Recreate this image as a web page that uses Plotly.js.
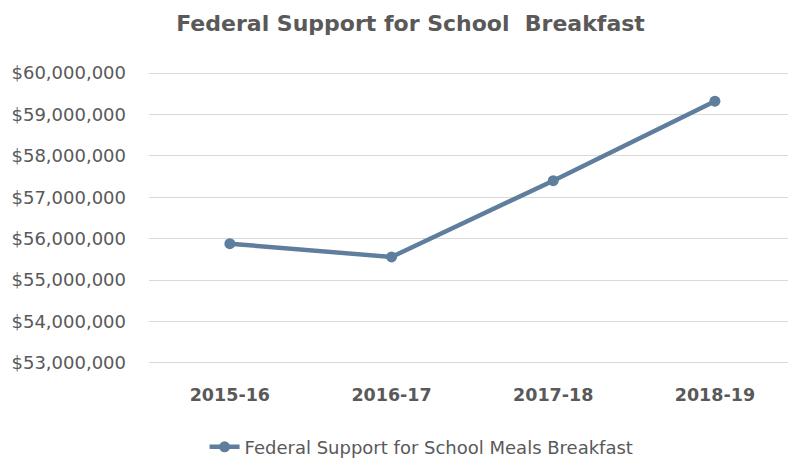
<!DOCTYPE html>
<html>
<head>
<meta charset="utf-8">
<script src="https://cdn.plot.ly/plotly-3.0.1.min.js"></script>
<style>html,body{margin:0;padding:0;background:#fff;}#chart{width:788px;height:459px;}</style>
</head>
<body>
<div id="chart"></div>
<script>
const categories = ["2015-16", "2016-17", "2017-18", "2018-19"];
const breakfastSupport = [55880000, 55560000, 57400000, 59320000];
const seriesName = "Federal Support for School Meals Breakfast";
const chartTitle = "Federal Support for School  Breakfast";
const yTickVals = [53000000, 54000000, 55000000, 56000000, 57000000, 58000000, 59000000, 60000000];
const yTickLabels = ["$53,000,000", "$54,000,000", "$55,000,000", "$56,000,000", "$57,000,000", "$58,000,000", "$59,000,000", "$60,000,000"];

const lineColor = "#5f7d9c";
const textColor = "#595959";

const trace = {
  x: categories,
  y: breakfastSupport,
  type: "scatter",
  mode: "lines+markers",
  name: seriesName,
  line: {color: lineColor, width: 4.5},
  marker: {color: lineColor, size: 11}
};

const layout = {
  width: 788,
  height: 459,
  margin: {l: 149, r: 0, t: 70.9, b: 93.6},
  paper_bgcolor: "#ffffff",
  plot_bgcolor: "#ffffff",
  font: {family: "DejaVu Sans", color: textColor},
  title: {
    text: "<b>" + chartTitle + "</b>",
    x: 0.521, xanchor: "center", xref: "container",
    y: 0.95, yanchor: "middle", yref: "container",
    font: {family: "DejaVu Sans", size: 22, color: textColor}
  },
  xaxis: {
    type: "category",
    range: [-0.5, 3.452],
    showgrid: false,
    zeroline: false,
    showline: false,
    ticks: "",
    tickfont: {family: "DejaVu Sans", size: 17.5, color: textColor, weight: "bold"},
    ticklabelstandoff: 17
  },
  yaxis: {
    range: [52950000, 60050000],
    tickvals: yTickVals,
    ticktext: yTickLabels,
    showgrid: true,
    gridcolor: "#d9d9d9",
    gridwidth: 1,
    zeroline: false,
    showline: false,
    ticks: "",
    tickfont: {family: "DejaVu Sans", size: 18, color: textColor},
    ticklabelstandoff: 22
  },
  showlegend: true,
  legend: {
    orientation: "h",
    x: 0.535, xanchor: "center", xref: "container",
    y: 0.026, yanchor: "middle", yref: "container",
    font: {family: "DejaVu Sans", size: 18, color: textColor}
  }
};

Plotly.newPlot("chart", [trace], layout, {displayModeBar: false, staticPlot: true});
</script>
</body>
</html>
